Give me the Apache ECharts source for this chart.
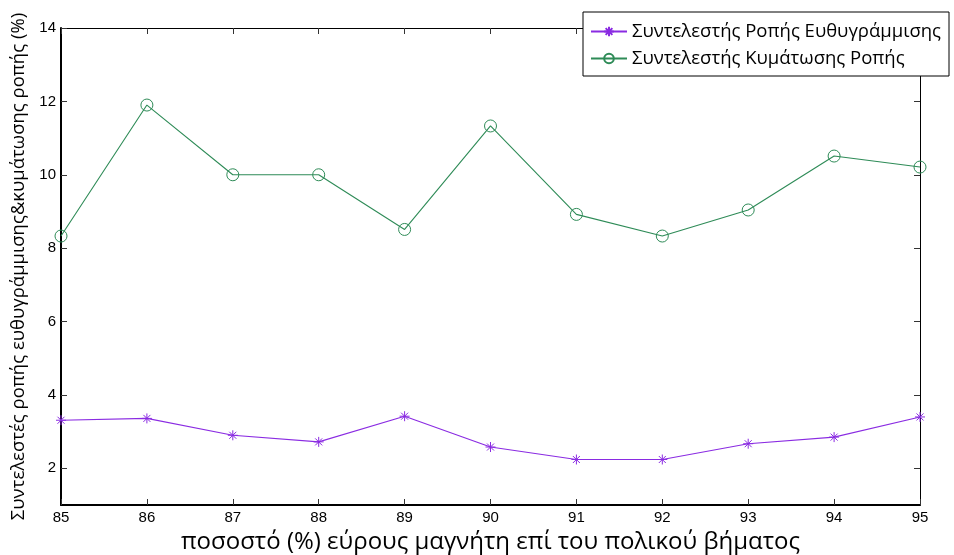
<!DOCTYPE html>
<html>
<head>
<meta charset="utf-8">
<script src="https://cdn.jsdelivr.net/npm/echarts@6/dist/echarts.min.js"></script>
<style>
  html, body { margin: 0; padding: 0; background: #fff; }
  #chart { width: 954px; height: 555px; }
</style>
</head>
<body>
<div id="chart"></div>
<script>
// Magnet width as % of pole pitch
const widthPercent = [85, 86, 87, 88, 89, 90, 91, 92, 93, 94, 95];
// Alignment torque coefficient (%)
const alignTorque = [3.31, 3.36, 2.90, 2.72, 3.42, 2.58, 2.24, 2.24, 2.67, 2.85, 3.40];
// Torque ripple coefficient (%)
const rippleTorque = [8.33, 11.9, 10.0, 10.0, 8.51, 11.33, 8.92, 8.33, 9.04, 10.51, 10.21];
// Tick values on the y axes
const yTicks = [2, 4, 6, 8, 10, 12, 14];

const seriesNames = ['Συντελεστής Ροπής Ευθυγράμμισης', 'Συντελεστής Κυμάτωσης Ροπής'];
const xTitle = 'ποσοστό (%) εύρους μαγνήτη επί του πολικού βήματος';
const yTitle = 'Συντελεστές ροπής ευθυγράμμισης&κυμάτωσης ροπής (%)';

const purple = '#8a2be2';
const green = '#2e8b57';
const asterisk = 'path://M0,-10L0,10M-10,0L10,0M-7,-7L7,7M-7,7L7,-7';

const chart = echarts.init(document.getElementById('chart'), null, { renderer: 'canvas' });

const tickFont = { color: '#000', fontFamily: 'Liberation Sans, Arial, sans-serif', fontSize: 15 };

chart.setOption({
  animation: false,
  backgroundColor: '#fff',
  grid: { left: 61, right: 34, top: 28, bottom: 50, containLabel: false, outerBoundsMode: 'none' },
  legend: {
    orient: 'vertical',
    left: 583,
    top: 12,
    padding: [10, 8, 8, 7],
    itemGap: 8,
    itemWidth: 36,
    itemHeight: 12,
    backgroundColor: '#fff',
    borderColor: '#000',
    borderWidth: 1,
    borderRadius: 0,
    textStyle: { color: '#000', fontFamily: 'Open Sans, sans-serif', fontSize: 18.5 },
    data: seriesNames
  },
  xAxis: [
    {
      type: 'value', position: 'bottom', min: 85, max: 95, interval: 1,
      name: xTitle, nameLocation: 'middle', nameGap: 22,
      nameTextStyle: { color: '#000', fontFamily: 'Open Sans, sans-serif', fontSize: 24 },
      axisLine: { show: true, lineStyle: { color: '#000', width: 2 } },
      axisTick: { show: true, inside: true, length: 6, lineStyle: { color: '#333' } },
      axisLabel: Object.assign({ margin: 5 }, tickFont),
      splitLine: { show: false }
    },
    {
      type: 'value', position: 'top', min: 85, max: 95, interval: 1,
      axisLine: { show: true, lineStyle: { color: '#000', width: 1 } },
      axisTick: { show: true, inside: true, length: 6, lineStyle: { color: '#333' } },
      axisLabel: { show: false },
      splitLine: { show: false }
    }
  ],
  yAxis: [
    {
      type: 'value', position: 'left', min: 1, max: 14,
      name: yTitle, nameLocation: 'middle', nameGap: 33,
      nameTextStyle: { color: '#000', fontFamily: 'Open Sans, sans-serif', fontSize: 18.5 },
      axisLine: { show: true, lineStyle: { color: '#000', width: 2 } },
      axisTick: { show: true, inside: true, length: 6, customValues: yTicks, lineStyle: { color: '#333' } },
      axisLabel: Object.assign({ margin: 5, customValues: yTicks }, tickFont),
      splitLine: { show: false }
    },
    {
      type: 'value', position: 'right', min: 1, max: 14,
      axisLine: { show: true, lineStyle: { color: '#000', width: 1 } },
      axisTick: { show: true, inside: true, length: 6, customValues: yTicks, lineStyle: { color: '#333' } },
      axisLabel: { show: false },
      splitLine: { show: false }
    }
  ],
  series: [
    {
      name: seriesNames[0],
      type: 'line',
      data: widthPercent.map((x, i) => [x, alignTorque[i]]),
      symbol: asterisk,
      symbolSize: 10,
      showAllSymbol: true,
      lineStyle: { color: purple, width: 1.1 },
      itemStyle: { color: purple, borderColor: purple, borderWidth: 1 },
      clip: false
    },
    {
      name: seriesNames[1],
      type: 'line',
      data: widthPercent.map((x, i) => [x, rippleTorque[i]]),
      symbol: 'circle',
      symbolSize: 12,
      showAllSymbol: true,
      lineStyle: { color: green, width: 1.1 },
      itemStyle: { color: 'rgba(0,0,0,0)', borderColor: green, borderWidth: 1 },
      clip: false
    }
  ]
});
</script>
</body>
</html>
